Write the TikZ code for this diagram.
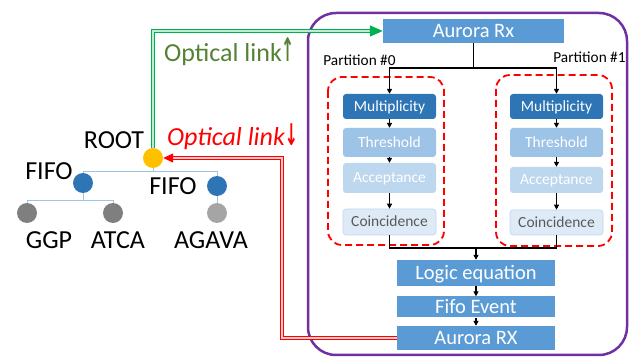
\documentclass[tikz,border=0pt]{standalone}
\usepackage{fontspec}
\usepackage{graphicx}
\setmainfont{Carlito}
\newfontfamily\symfont{DejaVu Sans}
\usetikzlibrary{arrows.meta}
\definecolor{medblue}{HTML}{5B9BD5}
\definecolor{darkblue}{HTML}{2E75B6}
\definecolor{thrblue}{HTML}{9DC3E6}
\definecolor{accblue}{HTML}{BDD7EE}
\definecolor{coinblue}{HTML}{DEEBF7}
\definecolor{coingray}{HTML}{595959}
\definecolor{purp}{HTML}{7030A0}
\definecolor{lgreen}{HTML}{00B050}
\definecolor{tgreen}{HTML}{548235}
\definecolor{rootyel}{HTML}{FFC000}
\definecolor{dgray}{HTML}{7F7F7F}
\definecolor{lgray}{HTML}{A5A5A5}
\definecolor{treeline}{HTML}{9DC3E6}
\begin{document}
\begin{tikzpicture}[x=1pt,y=-1pt,
  blk/.style={rectangle, inner sep=0pt, minimum width=93pt, rounded corners=3pt,
    text height=9.8pt, text depth=0pt, font=\fontsize{15.5}{18}\selectfont},
  bigblk/.style={rectangle, inner sep=0pt, fill=medblue, text=white,
    text height=13pt, text depth=0pt, font=\fontsize{20.5}{24}\selectfont},
  lbl/.style={inner sep=0pt, text height=16.4pt, text depth=0pt, font=\fontsize{26}{30}\selectfont},
  dot/.style={circle, inner sep=0pt, minimum size=20pt},
  arr/.style={-{Triangle[length=5pt,width=5pt]}, line width=1.2pt},
  part/.style={draw=red, dash pattern=on 7pt off 4pt, line width=1.8pt, rounded corners=14pt},
  tree/.style={draw=treeline, line width=0.9pt}
]
\useasboundingbox (0,0) rectangle (630,358);

% purple frame
\draw[purp, line width=2.5pt, rounded corners=28pt] (308,13) rectangle (627,355);

% partition boxes
\draw[part] (328,77) rectangle (444,245);
\draw[part] (496,75) rectangle (612,246);

% blocks
\node[bigblk, minimum width=181pt, minimum height=24pt] (aurtop) at (473.5,31) {Aurora Rx};
\node[bigblk, minimum width=158pt, minimum height=26pt] (logic) at (476,273) {Logic equation};
\node[bigblk, minimum width=158pt, minimum height=21pt] (fifoev) at (476,307) {Fifo Event};
\node[bigblk, minimum width=158pt, minimum height=24pt] (aurbot) at (476,338) {Aurora RX};

\node[blk, fill=darkblue, text=white, minimum height=25pt] (m0) at (389.5,106.5) {Multiplicity};
\node[blk, fill=thrblue, text=white, minimum height=29pt] (t0) at (389.5,142.5) {Threshold};
\node[blk, fill=accblue, text=white, minimum height=30pt] (a0) at (389.5,178) {Acceptance};
\node[blk, fill=coinblue, draw=accblue, line width=0.6pt, text=coingray, minimum height=26pt] (c0) at (389.5,222) {Coincidence};

\node[blk, fill=darkblue, text=white, minimum height=25pt] (m1) at (556.5,106.5) {Multiplicity};
\node[blk, fill=thrblue, text=white, minimum height=29pt] (t1) at (556.5,142.5) {Threshold};
\node[blk, fill=accblue, text=white, minimum height=26pt] (a1) at (556.5,180) {Acceptance};
\node[blk, fill=coinblue, draw=accblue, line width=0.6pt, text=coingray, minimum height=25pt] (c1) at (556.5,222.5) {Coincidence};

\node[inner sep=0pt, anchor=base, font=\fontsize{15.3}{18}\selectfont] (p0) at (359.5,66) {Partition \#0};
\node[inner sep=0pt, anchor=base, font=\fontsize{15.3}{18}\selectfont] (p1) at (589.5,63) {Partition \#1};

% internal connectors
\coordinate (tj) at (473.5,68);
\draw[line width=1.5pt] (aurtop.south) -- (tj);
\draw[arr, line width=1.5pt] (tj) -| (m0.north);
\draw[arr, line width=1.5pt] (tj) -| (m1.north);
\draw[arr] (m0) -- (t0);
\draw[arr] (t0) -- (a0);
\draw[arr] (a0) -- (c0);
\draw[arr] (m1) -- (t1);
\draw[arr] (t1) -- (a1);
\draw[arr] (a1) -- (c1);
\coordinate (bj) at (476,248);
\draw[line width=1.5pt] (c0.south) |- (bj);
\draw[line width=1.5pt] (c1.south) |- (bj);
\draw[arr] (bj) -- (logic.north);
\draw[arr] (logic) -- (fifoev);
\draw[arr] (fifoev) -- (aurbot);

% tree
\node[dot, fill=rootyel] (root) at (153,158) {};
\node[dot, fill=darkblue] (fifoL) at (83,183) {};
\node[dot, fill=darkblue] (fifoR) at (217,186) {};
\node[dot, fill=dgray] (ggp) at (27,213) {};
\node[dot, fill=dgray] (atca) at (113,213) {};
\node[dot, fill=lgray] (agava) at (217,213) {};
\coordinate (rj) at (153,171);
\coordinate (lj) at (83,200);
\draw[tree] (root.south) -- (rj);
\draw[tree] (rj) -| (fifoL.north);
\draw[tree] (rj) -| (fifoR.north);
\draw[tree] (fifoL.south) -- (lj);
\draw[tree] (lj) -| (ggp.north);
\draw[tree] (lj) -| (atca.north);
\draw[tree] (fifoR.south) -- (agava.north);

\node[lbl] (troot) at (114,140.5) {ROOT};
\node[lbl] (tfifoL) at (49,171) {FIFO};
\node[lbl] (tfifoR) at (173,186) {FIFO};
\node[lbl] (tggp) at (49,240.5) {GGP};
\node[lbl] (tatca) at (118,240.5) {ATCA};
\node[lbl] (tagava) at (211,240.5) {AGAVA};

% optical links
\draw[draw=lgreen, double=lgreen!25, line width=1.4pt, double distance=1.4pt,
  -{Triangle[length=13pt,width=11pt]}] (root.north) |- (aurtop.west);
\draw[draw=red, double=red!20, line width=1.4pt, double distance=1.4pt,
  -{Triangle[length=10pt,width=9pt]}] (aurbot.west) -- (282,338) |- (root.east);

\node[inner sep=0pt, anchor=base west, text=tgreen, font=\fontsize{26}{30}\selectfont] (tg) at (164,62)
  {Optical link\scalebox{0.6}[1.25]{\symfont\bfseries ↑}};
\node[inner sep=0pt, anchor=base west, text=red, font=\fontsize{26}{30}\selectfont\itshape] (tr) at (167,146)
  {Optical link\scalebox{0.6}[1.15]{\symfont\upshape\bfseries ↓}};
\end{tikzpicture}
\end{document}
